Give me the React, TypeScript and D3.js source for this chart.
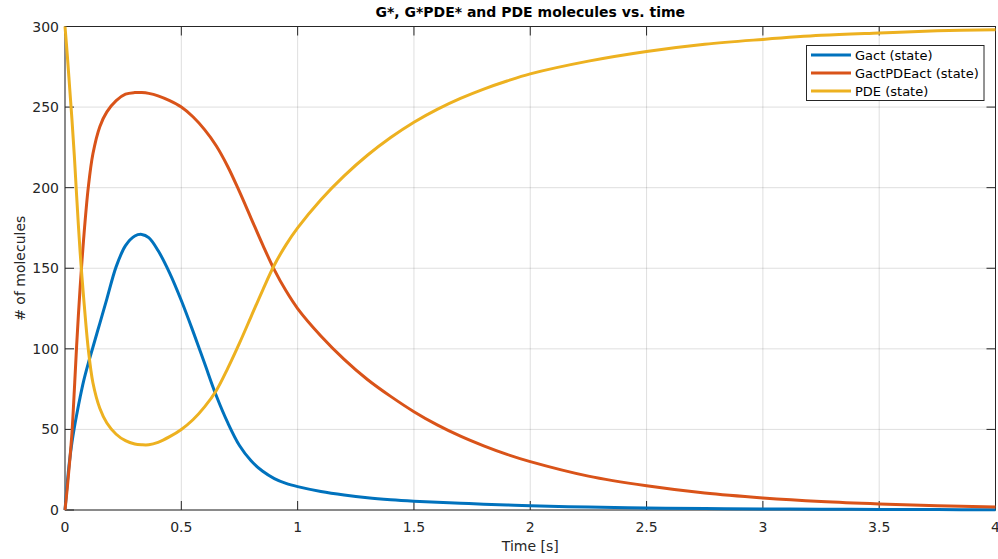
import * as d3 from "d3";

// time samples [s]
const time = [0, 0.01, 0.02, 0.03, 0.04, 0.05, 0.065, 0.08, 0.1, 0.12, 0.15, 0.18, 0.22, 0.26, 0.3, 0.33, 0.36, 0.4, 0.45, 0.5, 0.55, 0.6, 0.65, 0.7, 0.75, 0.8, 0.85, 0.9, 0.95, 1.0, 1.1, 1.2, 1.3, 1.4, 1.5, 1.6, 1.7, 1.8, 1.9, 2.0, 2.25, 2.5, 2.75, 3.0, 3.25, 3.5, 3.75, 4.0];

const gact = [0, 17, 31, 42, 51, 59, 70, 80, 91, 101, 116, 131, 151, 164, 170, 171, 169, 161, 147, 130, 111, 91, 71, 54, 40, 30.5, 24, 19.5, 16.5, 14.5, 11.5, 9.3, 7.6, 6.4, 5.5, 4.8, 4.2, 3.6, 3.1, 2.6, 1.8, 1.3, 0.9, 0.65, 0.5, 0.35, 0.25, 0.2];

const gactPdeAct = [0, 14, 30, 48, 74, 102, 138, 168, 200, 221, 238, 247, 254, 258, 259, 259, 258.5, 257, 254, 250, 244, 236, 226, 213, 197.5, 181, 164.5, 149, 136, 125, 108, 93.5, 81, 70.5, 61, 52.8, 45.8, 39.8, 34.5, 30, 21, 15, 10.5, 7.5, 5.3, 3.8, 2.7, 1.8];

const pde = [300, 282, 262, 242, 220, 195, 160, 132, 100, 79, 63, 54, 47, 43, 41, 40.5, 40.5, 42, 45.5, 50, 56, 64, 74, 88, 103.5, 120, 136.5, 152, 164.5, 175, 192.5, 207.3, 220.1, 231.1, 240.6, 248.6, 255.4, 261.2, 266.2, 270.6, 278.5, 284.5, 289, 292, 294.5, 296, 297.3, 298];

const seriesNames = ["Gact (state)", "GactPDEact (state)", "PDE (state)"];
const seriesColors = ["#0072BD", "#D95319", "#EDB120"];
const xTicks = [0, 0.5, 1, 1.5, 2, 2.5, 3, 3.5, 4];
const yTicks = [0, 50, 100, 150, 200, 250, 300];

const W = 998;
const H = 559;
const left = 65;
const right = 995.5;
const top = 26.5;
const bottom = 510;
const axisColor = "#262626";
const font = "'DejaVu Sans', Verdana, sans-serif";

export default function App() {
  const x = d3.scaleLinear().domain([0, 4]).range([left, right]);
  const y = d3.scaleLinear().domain([0, 300]).range([bottom, top]);
  const all = [gact, gactPdeAct, pde];

  const line = d3
    .line<number>()
    .x((_, i) => x(time[i]))
    .y((d) => y(d))
    .curve(d3.curveCatmullRom.alpha(0.5));

  const tickLen = 9;

  return (
    <svg
      width={W}
      height={H}
      style={{ position: "absolute", left: 0, top: 0, background: "#fff" }}
      fontFamily={font}
    >
      <rect x={0} y={0} width={W} height={H} fill="#fff" />

      {/* grid */}
      <g stroke={axisColor} strokeOpacity={0.15} strokeWidth={1}>
        {xTicks.map((t) => (
          <line key={"gx" + t} x1={x(t)} x2={x(t)} y1={top} y2={bottom} />
        ))}
        {yTicks.map((t) => (
          <line key={"gy" + t} x1={left} x2={right} y1={y(t)} y2={y(t)} />
        ))}
      </g>

      {/* ticks, box */}
      <g stroke={axisColor} strokeWidth={1} fill="none">
        {xTicks.map((t) => (
          <g key={"tx" + t}>
            <line x1={x(t)} x2={x(t)} y1={bottom} y2={bottom - tickLen} />
            <line x1={x(t)} x2={x(t)} y1={top} y2={top + tickLen} />
          </g>
        ))}
        {yTicks.map((t) => (
          <g key={"ty" + t}>
            <line x1={left} x2={left + tickLen} y1={y(t)} y2={y(t)} />
            <line x1={right} x2={right - tickLen} y1={y(t)} y2={y(t)} />
          </g>
        ))}
        <rect x={left} y={top} width={right - left} height={bottom - top} />
      </g>

      {/* series */}
      {all.map((s, i) => (
        <path
          key={seriesNames[i]}
          d={line(s) || ""}
          fill="none"
          stroke={seriesColors[i]}
          strokeWidth={3}
          strokeLinejoin="round"
        />
      ))}

      {/* tick labels */}
      <g fill={axisColor} fontSize={14}>
        {xTicks.map((t) => (
          <text key={"lx" + t} x={x(t)} y={531.5} textAnchor="middle">
            {String(t)}
          </text>
        ))}
        {yTicks.map((t) => (
          <text key={"ly" + t} x={left - 6} y={y(t)} textAnchor="end" dominantBaseline="central">
            {String(t)}
          </text>
        ))}
      </g>

      {/* labels */}
      <text x={(left + right) / 2} y={551} textAnchor="middle" fontSize={14} fill={axisColor}>
        Time [s]
      </text>
      <text
        transform={`translate(25, ${(top + bottom) / 2}) rotate(-90)`}
        textAnchor="middle"
        fontSize={14}
        fill={axisColor}
      >
        # of molecules
      </text>
      <text
        x={(left + right) / 2}
        y={17}
        textAnchor="middle"
        fontSize={14}
        fontWeight="bold"
        fill="#000"
      >
        G*, G*PDE* and PDE molecules vs. time
      </text>

      {/* legend */}
      <g>
        <rect x={806.5} y={45.5} width={177.5} height={55} fill="#fff" stroke={axisColor} strokeWidth={1} />
        {seriesNames.map((n, i) => {
          const ly = 55 + i * 18;
          return (
            <g key={"lg" + n}>
              <line x1={811} x2={851} y1={ly} y2={ly} stroke={seriesColors[i]} strokeWidth={3} />
              <text x={855} y={ly} fontSize={13} fill="#000" dominantBaseline="central">
                {n}
              </text>
            </g>
          );
        })}
      </g>
    </svg>
  );
}
